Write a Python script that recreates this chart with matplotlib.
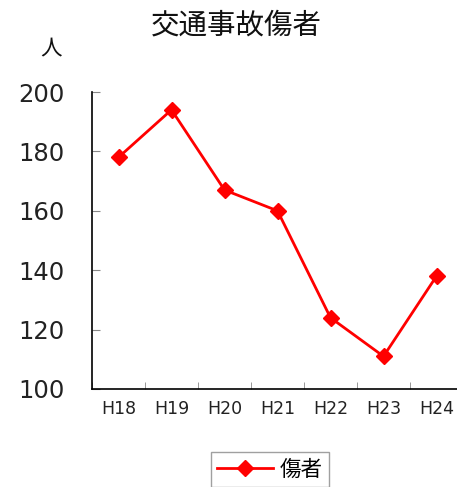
import matplotlib.pyplot as plt
import numpy as np

plt.rcParams['font.family'] = ['DejaVu Sans', 'Noto Sans CJK JP']

years = ['H18', 'H19', 'H20', 'H21', 'H22', 'H23', 'H24']
injured = [178, 194, 167, 160, 124, 111, 138]
series_name = '傷者'

jp = ['Noto Sans CJK JP', 'DejaVu Sans']

fig = plt.figure(figsize=(4.57, 4.87), dpi=100)
ax = fig.add_axes([92 / 457, 98 / 487, 371 / 457, 297 / 487])

x = np.arange(len(years))
ax.plot(x, injured, color='red', linewidth=2.0, marker='D', markersize=8.5,
        label=series_name)

ax.set_xlim(-0.5, len(years) - 0.5)
ax.set_ylim(100, 200)
ax.set_yticks(range(100, 201, 20))
ax.set_xticks(x)
ax.set_xticklabels(years)
ax.set_xticks(np.arange(-0.5, len(years), 1), minor=True)

for s in ['top', 'right']:
    ax.spines[s].set_visible(False)
for s in ['left', 'bottom']:
    ax.spines[s].set_linewidth(1.2)
    ax.spines[s].set_color('black')

ax.tick_params(axis='y', direction='in', length=6, color='#888888',
               labelsize=17.5, pad=20, labelcolor='#222222')
ax.tick_params(axis='x', which='major', length=0, labelsize=12.5, pad=8,
               labelcolor='#222222')
ax.tick_params(axis='x', which='minor', direction='in', length=5,
               color='#888888')

fig.text(236 / 457, 1 - 25 / 487, '交通事故傷者', ha='center', va='center',
         fontsize=20.5, family=jp, color='#111111')
fig.text(51 / 457, 1 - 48 / 487, '人', ha='center', va='center',
         fontsize=15.5, family=jp, color='#111111')

leg = ax.legend(loc='upper center', bbox_to_anchor=(270 / 457, 35 / 487),
                bbox_transform=fig.transFigure, frameon=True,
                prop={'family': jp, 'size': 15.5}, borderaxespad=0,
                fancybox=False, borderpad=0.3, handlelength=2.6,
                handletextpad=0.3)
leg.get_frame().set_edgecolor('#888888')
leg.get_frame().set_linewidth(1.0)

fig.savefig('out.png', dpi=100)
